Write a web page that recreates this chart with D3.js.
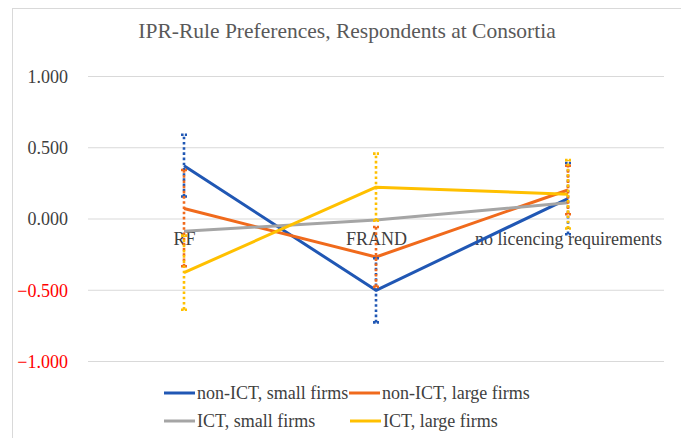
<!DOCTYPE html>
<html>
<head>
<meta charset="utf-8">
<script src="https://cdn.jsdelivr.net/npm/d3@7"></script>
<style>
  html, body { margin: 0; padding: 0; background: #fff; }
  svg { display: block; }
  svg text { font-family: "Liberation Serif", "Times New Roman", Tinos, "DejaVu Serif", serif; }
</style>
</head>
<body>
<svg id="chart" width="681" height="438"></svg>
<script>
const categories = ["RF", "FRAND", "no licencing requirements"];
const seriesNames = ["non-ICT, small firms", "non-ICT, large firms", "ICT, small firms", "ICT, large firms"];
const seriesColors = ["#2057b4", "#f06a1c", "#a5a5a5", "#ffc000"];
const nonIctSmall = [0.37, -0.504, 0.14];
const nonIctLarge = [0.07, -0.27, 0.20];
const ictSmall = [-0.09, -0.01, 0.11];
const ictLarge = [-0.38, 0.22, 0.17];
// error bar ends [low, high] per category (null = none visible)
const nonIctSmallErr = [[0.154, 0.588], [-0.729, -0.279], [-0.11, 0.39]];
const nonIctLargeErr = [[-0.335, 0.34], [-0.48, -0.06], [0.03, 0.37]];
const ictSmallErr = [null, null, null];
const ictLargeErr = [[-0.64, -0.12], [-0.015, 0.455], [-0.07, 0.41]];
const yTicks = [-1, -0.5, 0, 0.5, 1];
const title = "IPR-Rule Preferences, Respondents at Consortia";

const values = [nonIctSmall, nonIctLarge, ictSmall, ictLarge];
const errs = [nonIctSmallErr, nonIctLargeErr, ictSmallErr, ictLargeErr];

const svg = d3.select("#chart");

// chart border
svg.append("rect").attr("x", 12.5).attr("y", 8.5).attr("width", 720).attr("height", 500)
  .attr("fill", "none").attr("stroke", "#d9d9d9").attr("stroke-width", 1);

const x = d3.scalePoint().domain(categories).range([88, 664]).padding(0.5);
const y = d3.scaleLinear().domain([-1, 1]).range([361, 76]);

// title
svg.append("text").attr("x", 347).attr("y", 38).attr("text-anchor", "middle")
  .style("font-size", "21.5px").attr("fill", "#595959").text(title);

// gridlines + y labels via axis
const yAxis = d3.axisLeft(y).tickValues(yTicks).tickSize(-576).tickPadding(20)
  .tickFormat(d3.format(".3f"));
const gy = svg.append("g").attr("transform", "translate(88,0)").call(yAxis);
gy.attr("font-family", null).attr("font-size", null);
gy.select(".domain").remove();
gy.selectAll(".tick line").attr("stroke", "#d9d9d9").attr("stroke-width", 1);
gy.selectAll(".tick text").style("font-size", "18px")
  .attr("fill", d => d < 0 ? "#ff0000" : "#404040").attr("dy", "0.35em");

// category labels at the zero line
const xAxis = d3.axisBottom(x).tickSize(0).tickPadding(14);
const gx = svg.append("g").attr("transform", `translate(0,${y(0)})`).call(xAxis);
gx.attr("font-family", null).attr("font-size", null);
gx.select(".domain").remove();
gx.selectAll(".tick text").style("font-size", "18px").attr("fill", "#404040");

// lines
const line = d3.line().x((d, i) => x(categories[i])).y(d => y(d));
values.forEach((vals, s) => {
  svg.append("path").datum(vals).attr("d", line).attr("fill", "none")
    .attr("stroke", seriesColors[s]).attr("stroke-width", 3).attr("stroke-linejoin", "round");
});

// error bars (dotted)
errs.forEach((eList, s) => {
  const g = svg.append("g").attr("stroke", seriesColors[s]).attr("stroke-width", 2.6)
    .attr("stroke-dasharray", "2.6,2.6").attr("fill", "none");
  eList.forEach((e, i) => {
    if (!e) return;
    const cx = x(categories[i]);
    g.append("line").attr("x1", cx).attr("x2", cx).attr("y1", y(e[0])).attr("y2", y(e[1]));
    [e[0], e[1]].forEach(v => {
      g.append("line").attr("x1", cx - 3).attr("x2", cx + 3).attr("y1", y(v)).attr("y2", y(v))
        .attr("stroke-dasharray", "2.6,1.2");
    });
  });
});

// legend
const legendPos = [[164, 393], [349, 393], [164, 421], [350, 421]];
seriesNames.forEach((name, s) => {
  const [lx, ly] = legendPos[s];
  svg.append("line").attr("x1", lx).attr("x2", lx + 31).attr("y1", ly).attr("y2", ly)
    .attr("stroke", seriesColors[s]).attr("stroke-width", 3);
  svg.append("text").attr("x", lx + 33).attr("y", ly + 6)
    .style("font-size", "18px").attr("fill", "#404040").text(name);
});
</script>
</body>
</html>
